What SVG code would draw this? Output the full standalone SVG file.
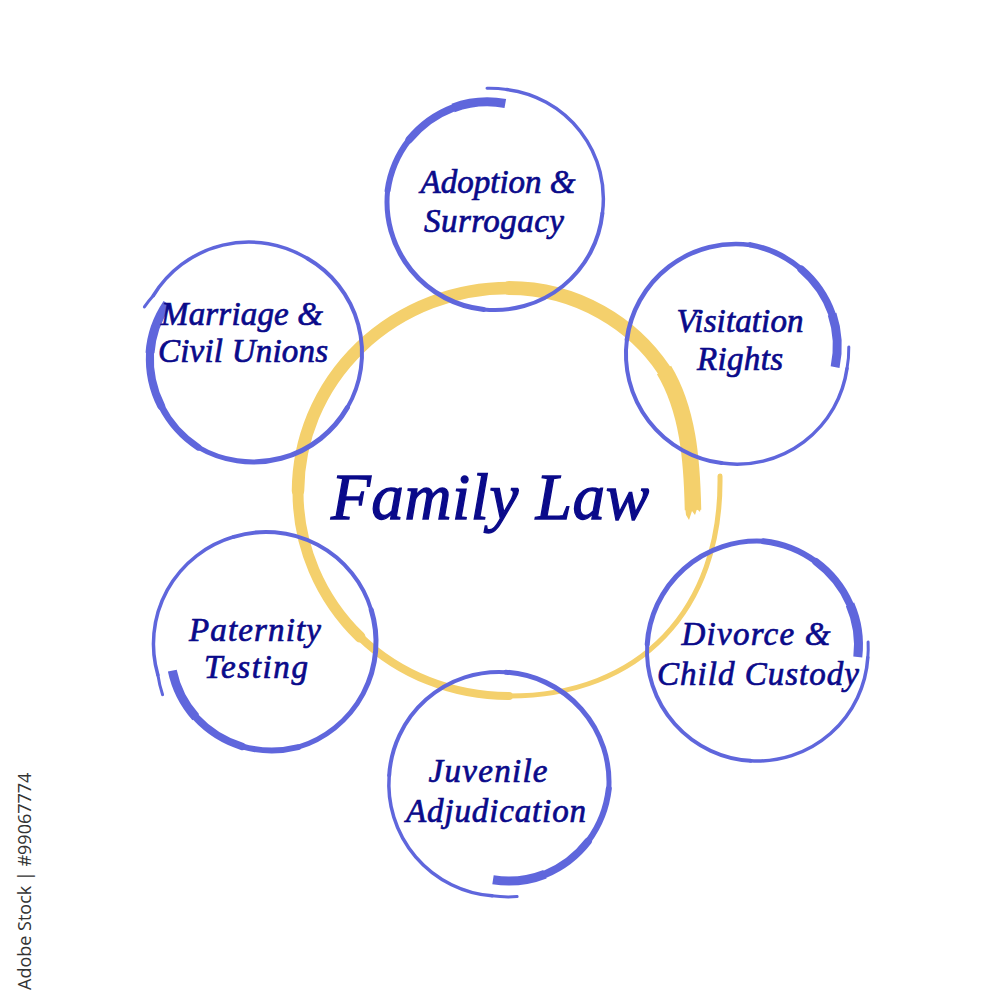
<svg xmlns="http://www.w3.org/2000/svg" width="1000" height="1000" viewBox="0 0 1000 1000">
<style>
.y{fill:none;stroke:#F4D06C;stroke-linecap:round}
.b{fill:none;stroke:#5F66DC;stroke-linecap:round}
.s{stroke-linecap:butt}
.t{font-family:"Liberation Serif","Times New Roman",serif;font-style:italic;fill:#0A0A8A;stroke:#0A0A8A;stroke-width:0.7px;font-size:33px;text-anchor:middle}
.wm{font-family:"Open Sans","DejaVu Sans",sans-serif;font-size:18px;fill:#333}
</style>
<rect width="1000" height="1000" fill="#fff"/>
<g id="center">
<path class="y s" stroke-width="16.5" d="M693,510 C692,460 688,410 664,370"/>
<path class="y" stroke-width="14" d="M664,370 C634,325 578,288 509,288"/>
<path class="y" stroke-width="12.5" d="M509,288 A211,204 0 0 0 298,491"/>
<path class="y" stroke-width="11" d="M298,491 A211,205 0 0 0 360,637"/>
<path class="y" stroke-width="8" d="M360,637 A211,205 0 0 0 509,696"/>
<path class="y" stroke-width="5" d="M509,696 C640,696 722,610 720,476"/>
<polygon fill="#F4D06C" points="685,506 701,506 700,512 697,509 695,515 692,511 689,520 686,515"/>
<text class="t" x="490" y="519" textLength="318" style="font-size:65px;stroke-width:1.3px">Family Law</text>
</g>
<g id="connectors"></g>
<g id="adoption">
<path class="b s" stroke-width="9" d="M505.3,103.5 A101,101 0 0 0 453.1,107.9"/>
<path class="b" stroke-width="7.5" d="M453.1,107.9 A104.5,104.5 0 0 0 409.2,139.7"/>
<path class="b" stroke-width="6" d="M409.2,139.7 A107,107 0 0 0 387.6,190.7"/>
<path class="b" stroke-width="5" d="M387.6,190.7 A108,108 0 0 0 483.7,309.4"/>
<path class="b" stroke-width="4" d="M483.7,309.4 A108,108 0 0 0 602.4,213.3"/>
<path class="b" stroke-width="3.5" d="M602.4,213.3 A110,110 0 0 0 506.8,89.6"/>
<path class="b" stroke-width="3" d="M506.8,89.6 A113.5,113.5 0 0 0 487,88.3"/>
<text class="t" x="498" y="193" textLength="155">Adoption &amp;</text>
<text class="t" x="494" y="232" textLength="140">Surrogacy</text>
</g>
<g id="marriage">
<path class="b s" stroke-width="9" d="M167.3,303.5 A101,101 0 0 0 150,353"/>
<path class="b" stroke-width="8" d="M150,353 A104.5,104.5 0 0 0 161.2,406"/>
<path class="b" stroke-width="6.5" d="M161.2,406 A107.5,107.5 0 0 0 198.5,447.4"/>
<path class="b" stroke-width="5" d="M198.5,447.4 A109,109 0 0 0 347.4,407.5"/>
<path class="b" stroke-width="4" d="M347.4,407.5 A109,109 0 0 0 307.5,258.6"/>
<path class="b" stroke-width="3.5" d="M307.5,258.6 A112,112 0 0 0 153.4,295.5"/>
<path class="b" stroke-width="3" d="M153.4,295.5 A116,116 0 0 0 144.4,306.9"/>
<text class="t" x="242" y="325" textLength="162">Marriage &amp;</text>
<text class="t" x="243" y="362" textLength="170">Civil Unions</text>
</g>
<g id="visitation">
<path class="b s" stroke-width="9" d="M835.1,367.1 A102,102 0 0 0 832.1,314.2"/>
<path class="b" stroke-width="7.5" d="M832.1,314.2 A105.5,105.5 0 0 0 801.1,269.1"/>
<path class="b" stroke-width="5.5" d="M801.1,269.1 A108.5,108.5 0 0 0 750.4,244.9"/>
<path class="b" stroke-width="4.5" d="M750.4,244.9 A110,110 0 0 0 626.9,339.6"/>
<path class="b" stroke-width="4" d="M626.9,339.6 A110,110 0 0 0 721.6,463.1"/>
<path class="b" stroke-width="3.5" d="M721.6,463.1 A111,111 0 0 0 847,368.6"/>
<path class="b" stroke-width="3" d="M847,368.6 A112.5,112.5 0 0 0 848.8,347.1"/>
<text class="t" x="740" y="332" textLength="127">Visitation</text>
<text class="t" x="740" y="370" textLength="86">Rights</text>
</g>
<g id="divorce">
<path class="b s" stroke-width="9" d="M857.8,657 A102.5,102.5 0 0 0 850,604.4"/>
<path class="b" stroke-width="7.5" d="M850,604.4 A105.5,105.5 0 0 0 815.9,561.7"/>
<path class="b" stroke-width="6" d="M815.9,561.7 A108.5,108.5 0 0 0 763.5,541.2"/>
<path class="b" stroke-width="5" d="M763.5,541.2 A110,110 0 0 0 647.2,644.5"/>
<path class="b" stroke-width="4" d="M647.2,644.5 A110,110 0 0 0 750.5,760.8"/>
<path class="b" stroke-width="3.5" d="M750.5,760.8 A110.5,110.5 0 0 0 867.8,657.6"/>
<path class="b" stroke-width="3" d="M867.8,657.6 A111,111 0 0 0 868.1,642.1"/>
<text class="t" x="756" y="645" textLength="149">Divorce &amp;</text>
<text class="t" x="758" y="685" textLength="202">Child Custody</text>
</g>
<g id="juvenile">
<path class="b s" stroke-width="9" d="M493,879.8 A100.5,100.5 0 0 0 545,874.2"/>
<path class="b" stroke-width="7.5" d="M545,874.2 A105,105 0 0 0 588.2,841.1"/>
<path class="b" stroke-width="6" d="M588.2,841.1 A108.5,108.5 0 0 0 608.8,788.7"/>
<path class="b" stroke-width="5" d="M608.8,788.7 A110,110 0 0 0 505.7,672.2"/>
<path class="b" stroke-width="4" d="M505.7,672.2 A110,110 0 0 0 389.2,775.3"/>
<path class="b" stroke-width="3.5" d="M389.2,775.3 A112,112 0 0 0 492,895.8"/>
<path class="b" stroke-width="3" d="M492,895.8 A115,115 0 0 0 517.1,896.6"/>
<text class="t" x="488" y="782" textLength="119">Juvenile</text>
<text class="t" x="496" y="822" textLength="180">Adjudication</text>
</g>
<g id="paternity">
<path class="b s" stroke-width="9" d="M172.3,670.7 A100.5,100.5 0 0 0 195.8,717.3"/>
<path class="b" stroke-width="7.5" d="M195.8,717.3 A105,105 0 0 0 241.9,746.3"/>
<path class="b" stroke-width="6" d="M241.9,746.3 A108.5,108.5 0 0 0 298.2,747.2"/>
<path class="b" stroke-width="5" d="M298.2,747.2 A110,110 0 0 0 371.2,609.8"/>
<path class="b" stroke-width="4" d="M371.2,609.8 A110,110 0 0 0 233.8,536.8"/>
<path class="b" stroke-width="3.5" d="M233.8,536.8 A111.5,111.5 0 0 0 157.9,675"/>
<path class="b" stroke-width="3" d="M157.9,675 A114.5,114.5 0 0 0 162.6,694.7"/>
<text class="t" x="255" y="641" textLength="132">Paternity</text>
<text class="t" x="256" y="678" textLength="104">Testing</text>
</g>
<text class="wm" transform="translate(31,990) rotate(-90)">Adobe Stock | #99067774</text>
</svg>
